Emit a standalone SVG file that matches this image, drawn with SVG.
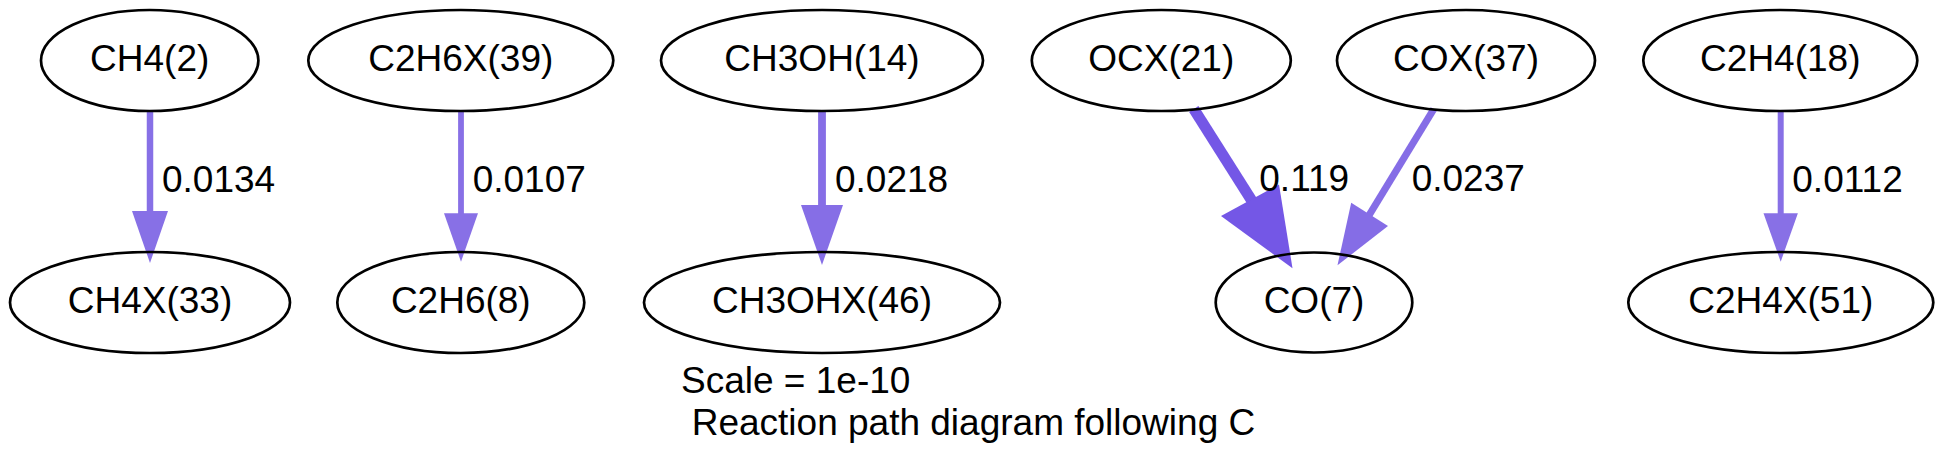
<svg xmlns="http://www.w3.org/2000/svg" width="1943" height="469" viewBox="0 0 1943 469">
<style>
.node ellipse{fill:none;stroke:#000;stroke-width:2.7}
text{font-family:"Liberation Sans",Arial,Helvetica,sans-serif;font-size:37px;fill:#000}
.node text{text-anchor:middle}
</style>
<rect x="0" y="0" width="1943" height="469" fill="#fff"/>
<g id="connectors">
 <g id="e_CH4_CH4X">
  <line x1="150" y1="111" x2="150" y2="213" stroke="#8770E6" stroke-width="6.5"/>
  <polygon points="132,211 168,211 150,263" fill="#8770E6"/>
  <text x="162" y="192">0.0134</text>
 </g>
 <g id="e_C2H6X_C2H6">
  <line x1="461" y1="111" x2="461" y2="215" stroke="#8870E6" stroke-width="5.8"/>
  <polygon points="444,213.3 478,213.3 461,261.7" fill="#8870E6"/>
  <text x="472.7" y="192">0.0107</text>
 </g>
 <g id="e_CH3OH_CH3OHX">
  <line x1="822" y1="111" x2="822" y2="207" stroke="#866EE6" stroke-width="7.8"/>
  <polygon points="801,205 843,205 822,265" fill="#866EE6"/>
  <text x="835" y="192">0.0218</text>
 </g>
 <g id="e_OCX_CO">
  <line x1="1193.8" y1="109" x2="1252" y2="201" stroke="#7457E6" stroke-width="11"/>
  <polygon points="1221,216 1279,184.5 1292.5,268.3" fill="#7457E6"/>
  <text x="1259.3" y="190.5">0.119</text>
 </g>
 <g id="e_COX_CO">
  <line x1="1433.8" y1="109" x2="1368" y2="217" stroke="#856DE6" stroke-width="7.2"/>
  <polygon points="1388,226 1351.2,202.7 1337.5,265.3" fill="#856DE6"/>
  <text x="1411.7" y="190.5">0.0237</text>
 </g>
 <g id="e_C2H4_C2H4X">
  <line x1="1780.7" y1="111" x2="1780.7" y2="215" stroke="#8870E6" stroke-width="6"/>
  <polygon points="1763.5,213.3 1797.9,213.3 1780.7,261.7" fill="#8870E6"/>
  <text x="1792.3" y="191.7">0.0112</text>
 </g>
</g>
<g id="CH4_2" class="node"><ellipse cx="149.7" cy="60.5" rx="108.7" ry="50.5"/><text x="149.7" y="71">CH4(2)</text></g>
<g id="C2H6X_39" class="node"><ellipse cx="460.8" cy="60.5" rx="152.5" ry="50.5"/><text x="460.8" y="71">C2H6X(39)</text></g>
<g id="CH3OH_14" class="node"><ellipse cx="822" cy="60.5" rx="161" ry="50.5"/><text x="822" y="71">CH3OH(14)</text></g>
<g id="OCX_21" class="node"><ellipse cx="1161.3" cy="60.5" rx="129.5" ry="50.5"/><text x="1161.3" y="71">OCX(21)</text></g>
<g id="COX_37" class="node"><ellipse cx="1466" cy="60.5" rx="129" ry="50.5"/><text x="1466" y="71">COX(37)</text></g>
<g id="C2H4_18" class="node"><ellipse cx="1780.3" cy="60.5" rx="137" ry="50.5"/><text x="1780.3" y="71">C2H4(18)</text></g>
<g id="CH4X_33" class="node"><ellipse cx="150" cy="302.5" rx="140" ry="50.5"/><text x="150" y="313">CH4X(33)</text></g>
<g id="C2H6_8" class="node"><ellipse cx="460.8" cy="302.5" rx="123.5" ry="50.5"/><text x="460.8" y="313">C2H6(8)</text></g>
<g id="CH3OHX_46" class="node"><ellipse cx="822" cy="302.5" rx="178" ry="50.5"/><text x="822" y="313">CH3OHX(46)</text></g>
<g id="CO_7" class="node"><ellipse cx="1314" cy="302.5" rx="98.3" ry="50"/><text x="1314" y="313">CO(7)</text></g>
<g id="C2H4X_51" class="node"><ellipse cx="1780.8" cy="302.5" rx="152.5" ry="50.5"/><text x="1780.8" y="313">C2H4X(51)</text></g>
<g id="caption">
 <text x="681" y="393.3">Scale = 1e-10</text>
 <text x="691.7" y="435">Reaction path diagram following C</text>
</g>
</svg>
